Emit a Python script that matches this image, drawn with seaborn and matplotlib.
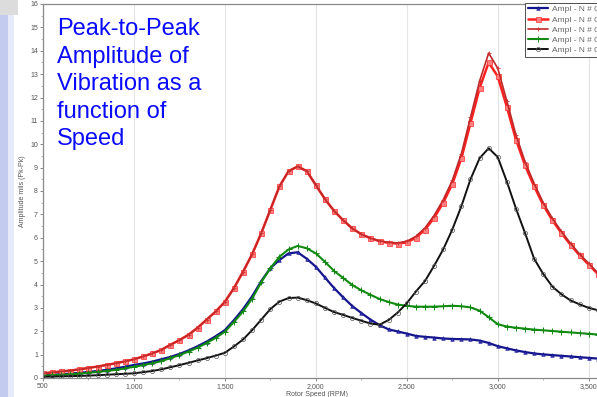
import numpy as np
import pandas as pd
import matplotlib
matplotlib.use("Agg")
import matplotlib.pyplot as plt
import seaborn as sns
from matplotlib.ticker import MultipleLocator, FuncFormatter
from matplotlib.patches import Rectangle

sns.set_theme(style="white")
plt.rcParams['font.family'] = ['Liberation Sans', 'DejaVu Sans']

rpm = [500, 550, 600, 650, 700, 750, 800, 850, 900, 950,
       1000, 1050, 1100, 1150, 1200, 1250, 1300, 1350, 1400, 1450,
       1500, 1550, 1600, 1650, 1700, 1750, 1800, 1850, 1900, 1950,
       2000, 2050, 2100, 2150, 2200, 2250, 2300, 2350, 2400, 2450,
       2500, 2550, 2600, 2650, 2700, 2750, 2800, 2850, 2900, 2950,
       3000, 3050, 3100, 3150, 3200, 3250, 3300, 3350, 3400, 3450,
       3500, 3550]

blue = [0.12, 0.14, 0.16, 0.19, 0.22, 0.26, 0.30, 0.35, 0.41, 0.48,
        0.56, 0.62, 0.70, 0.80, 0.90, 1.03, 1.18, 1.36, 1.56, 1.79,
        2.05, 2.48, 2.95, 3.50, 4.15, 4.70, 5.05, 5.33, 5.38, 5.10,
        4.76, 4.30, 3.85, 3.45, 3.08, 2.78, 2.50, 2.26, 2.08, 1.99,
        1.90, 1.80, 1.76, 1.73, 1.69, 1.67, 1.66, 1.65, 1.60, 1.50,
        1.36, 1.27, 1.18, 1.11, 1.05, 1.01, 0.98, 0.95, 0.92, 0.89,
        0.86, 0.83]

red = [0.20, 0.24, 0.28, 0.32, 0.37, 0.43, 0.49, 0.56, 0.63, 0.71,
       0.80, 0.92, 1.05, 1.20, 1.42, 1.62, 1.85, 2.15, 2.50, 2.85,
       3.26, 3.85, 4.55, 5.30, 6.20, 7.20, 8.20, 8.85, 9.05, 8.85,
       8.25, 7.65, 7.15, 6.75, 6.40, 6.15, 5.98, 5.85, 5.78, 5.75,
       5.80, 6.00, 6.35, 6.85, 7.50, 8.30, 9.40, 10.90, 12.40, 13.50,
       12.90, 11.60, 10.20, 9.10, 8.20, 7.40, 6.75, 6.20, 5.70, 5.25,
       4.85, 4.45]

darkred = [0.20, 0.24, 0.28, 0.32, 0.37, 0.43, 0.49, 0.56, 0.63, 0.71,
           0.80, 0.92, 1.05, 1.20, 1.42, 1.62, 1.85, 2.15, 2.50, 2.85,
           3.26, 3.85, 4.55, 5.30, 6.20, 7.20, 8.20, 8.85, 9.05, 8.85,
           8.25, 7.65, 7.15, 6.75, 6.40, 6.15, 5.98, 5.87, 5.80, 5.78,
           5.85, 6.06, 6.42, 6.95, 7.62, 8.45, 9.60, 11.15, 12.70, 13.90,
           13.25, 11.85, 10.40, 9.25, 8.32, 7.50, 6.83, 6.27, 5.76, 5.30,
           4.90, 4.50]

green = [0.10, 0.12, 0.14, 0.16, 0.19, 0.22, 0.26, 0.30, 0.35, 0.41,
         0.48, 0.55, 0.63, 0.72, 0.85, 0.98, 1.13, 1.30, 1.50, 1.72,
         1.98, 2.40, 2.85, 3.40, 4.10, 4.70, 5.19, 5.50, 5.65, 5.55,
         5.33, 4.97, 4.58, 4.28, 3.98, 3.75, 3.56, 3.38, 3.25, 3.14,
         3.09, 3.05, 3.05, 3.05, 3.07, 3.09, 3.07, 3.02, 2.88, 2.60,
         2.30, 2.20, 2.15, 2.11, 2.07, 2.04, 2.01, 1.98, 1.95, 1.92,
         1.89, 1.86]

black = [0.05, 0.06, 0.07, 0.08, 0.09, 0.10, 0.12, 0.14, 0.16, 0.18,
         0.20, 0.25, 0.30, 0.37, 0.46, 0.55, 0.65, 0.75, 0.85, 0.96,
         1.08, 1.35, 1.65, 2.05, 2.50, 2.95, 3.27, 3.42, 3.44, 3.33,
         3.19, 3.00, 2.82, 2.70, 2.57, 2.45, 2.33, 2.28, 2.48, 2.80,
         3.20, 3.70, 4.15, 4.80, 5.50, 6.35, 7.35, 8.50, 9.40, 9.83,
         9.45, 8.40, 7.25, 6.20, 5.10, 4.45, 3.91, 3.58, 3.32, 3.15,
         3.00, 2.90]

labels = ["Ampl - N # 007", "Ampl - N # 008", "Ampl - N # 009",
          "Ampl - N # 010", "Ampl - N # 011"]
y_ticks = list(range(0, 17))
x_ticks = [500, 1000, 1500, 2000, 2500, 3000, 3500]

W, H = 597, 397
fig = plt.figure(figsize=(W / 100, H / 100), dpi=100)
fig.patch.set_facecolor("white")

# slide decorations at left edge
fig.patches.append(Rectangle((0, 0), 8 / W, 1, transform=fig.transFigure,
                             facecolor="#c3ccef", edgecolor="none", zorder=0))
fig.patches.append(Rectangle((8 / W, 0), 6 / W, 1, transform=fig.transFigure,
                             facecolor="#e6eafa", edgecolor="none", zorder=0))
fig.patches.append(Rectangle((0, 1 - 15 / H), 18 / W, 15 / H, transform=fig.transFigure,
                             facecolor="#dcdcdc", edgecolor="none", zorder=0))

ax_left, ax_right, ax_top, ax_bottom = 43, 616, 4, 378
ax = fig.add_axes([ax_left / W, 1 - ax_bottom / H,
                   (ax_right - ax_left) / W, (ax_bottom - ax_top) / H])
ax.set_facecolor("white")

styles = [
    dict(color="#14148c", marker="^", markersize=2.6, markerfacecolor="#3030b0",
         markeredgecolor="#14148c", markeredgewidth=0.4, linewidth=1.6),
    dict(color="#ff2020", marker="s", markersize=3.6, markerfacecolor="#ff8080",
         markeredgecolor="#ff3030", markeredgewidth=0.5, linewidth=1.8),
    dict(color="#c02828", marker="+", markersize=3.0, markeredgecolor="#d03030",
         markeredgewidth=0.6, linewidth=1.2),
    dict(color="#118a11", marker="+", markersize=4.0, markeredgecolor="#118a11",
         markeredgewidth=0.7, linewidth=1.5),
    dict(color="#111111", marker="o", markersize=3.0, markerfacecolor="none",
         markeredgecolor="#555555", markeredgewidth=0.5, linewidth=1.4),
]
series = [blue, red, darkred, green, black]

for vals, lab, st in zip(series, labels, styles):
    df = pd.DataFrame({"rpm": rpm, "amp": vals})
    sns.lineplot(data=df, x="rpm", y="amp", ax=ax, label=lab, **st)

ax.set_xlim(500, 3650)
ax.set_ylim(0, 16)
ax.set_xticks(x_ticks)
ax.set_yticks(y_ticks)
ax.xaxis.set_minor_locator(MultipleLocator(250))
ax.yaxis.set_minor_locator(MultipleLocator(0.5))
ax.xaxis.set_major_formatter(FuncFormatter(lambda v, p: f"{int(v):,}"))
ax.tick_params(axis="both", which="major", labelsize=5, colors="#777777",
               labelcolor="#555555", length=2.5, width=0.6, pad=1.2, direction="out")
ax.tick_params(axis="both", which="minor", colors="#999999", length=1.5,
               width=0.5, direction="out")
ax.tick_params(axis="x", which="both", bottom=True)
ax.tick_params(axis="y", which="both", left=True)
ax.grid(axis="x", which="major", color="#e4e4e4", linewidth=0.8)
ax.grid(axis="y", visible=False)
for s in ax.spines.values():
    s.set_color("#8a8a8a")
    s.set_linewidth(0.9)

ax.set_xlabel("Rotor Speed (RPM)", fontsize=5, color="#555555")
ax.set_ylabel("Amplitude mils (Pk-Pk)", fontsize=5, color="#555555")
ax.xaxis.set_label_coords((317 - ax_left) / (ax_right - ax_left), -0.034)
ax.yaxis.set_label_coords(-(ax_left - 26) / (ax_right - ax_left), 0.5)

leg = ax.legend(loc="upper left", bbox_to_anchor=(525 / W, 1 - 3 / H),
                bbox_transform=fig.transFigure, fontsize=6, frameon=True,
                fancybox=False, edgecolor="#333333", framealpha=1,
                handlelength=2.5, handletextpad=0.45, borderpad=0.3,
                labelspacing=0.28, borderaxespad=0)
leg.get_frame().set_linewidth(0.6)
for t in leg.get_texts():
    t.set_color("#666666")

fig.text(57 / W, 1 - 18 / H,
         "Peak-to-Peak\nAmplitude of\nVibration as a\nfunction of\nSpeed",
         fontsize=17, color="#0a0aff", ha="left", va="top", linespacing=1.33,
         family=["Liberation Sans", "DejaVu Sans"])

fig.savefig("out.png", dpi=100)
